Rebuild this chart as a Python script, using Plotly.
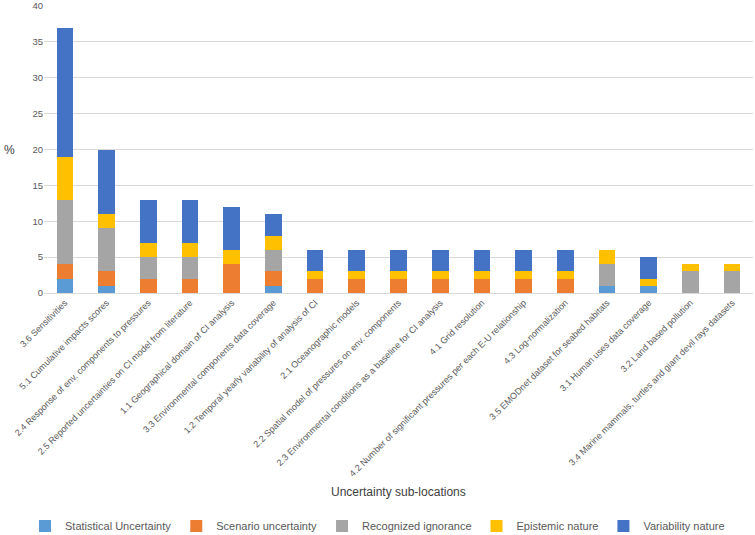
import plotly.graph_objects as go

categories = [
    "3.6 Sensitivities",
    "5.1 Cumulative impacts scores",
    "2.4 Response of env. components to pressures",
    "2.5 Reported uncertainties on CI model from literature",
    "1.1 Geographical domain of CI analysis",
    "3.3 Environmental components data coverage",
    "1.2 Temporal yearly variability of analysis of CI",
    "2.1 Oceanographic models",
    "2.2 Spatial model of pressures on env. components",
    "2.3 Environmental conditions as a baseline for CI analysis",
    "4.1 Grid resolution",
    "4.2 Number of significant pressures per each E-U relationship",
    "4.3 Log-normalization",
    "3.5 EMODnet dataset for seabed habitats",
    "3.1 Human uses data coverage",
    "3.2 Land based pollution",
    "3.4 Marine mammals, turtles and giant devil rays datasets",
]

statistical = [2, 1, 0, 0, 0, 1, 0, 0, 0, 0, 0, 0, 0, 1, 1, 0, 0]
scenario = [2, 2, 2, 2, 4, 2, 2, 2, 2, 2, 2, 2, 2, 0, 0, 0, 0]
ignorance = [9, 6, 3, 3, 0, 3, 0, 0, 0, 0, 0, 0, 0, 3, 0, 3, 3]
epistemic = [6, 2, 2, 2, 2, 2, 1, 1, 1, 1, 1, 1, 1, 2, 1, 1, 1]
variability = [18, 9, 6, 6, 6, 3, 3, 3, 3, 3, 3, 3, 3, 0, 3, 0, 0]

series = [
    ("Statistical Uncertainty", statistical, "#5B9BD5"),
    ("Scenario uncertainty", scenario, "#ED7D31"),
    ("Recognized ignorance", ignorance, "#A5A5A5"),
    ("Epistemic nature", epistemic, "#FFC000"),
    ("Variability nature", variability, "#4472C4"),
]

fig = go.Figure()
for name, vals, color in series:
    fig.add_trace(go.Bar(x=categories, y=vals, name=name, marker_color=color,
                         marker_line_width=0))

fig.update_layout(
    barmode="stack",
    bargap=0.6,
    width=755, height=535,
    margin=dict(l=44, r=2, t=6, b=242),
    plot_bgcolor="white",
    paper_bgcolor="white",
    font=dict(family="Liberation Sans, Arial, sans-serif", color="#595959", size=10),
    legend=dict(orientation="h", xref="container", x=0.5, xanchor="center",
                yref="container", y=0.017, yanchor="middle",
                font=dict(size=11), traceorder="normal", itemwidth=30),
    xaxis=dict(tickangle=-45, tickfont=dict(size=9), showgrid=False,
               showline=True, linecolor="#D9D9D9", ticks="", automargin=False),
    yaxis=dict(range=[0, 40], tickvals=[0, 5, 10, 15, 20, 25, 30, 35, 40],
               gridcolor="#D9D9D9", zeroline=False, ticklabeloverflow="allow",
               showline=False, ticks="", tickfont=dict(size=9.5), automargin=False),
    annotations=[
        dict(text="Uncertainty sub-locations", xref="paper", yref="paper",
             x=0.5, y=-0.694, showarrow=False, font=dict(size=12, color="#404040"),
             xanchor="center", yanchor="middle"),
        dict(text="%", xref="paper", yref="paper", x=-0.048, y=0.497,
             showarrow=False, font=dict(size=12, color="#404040"),
             xanchor="center", yanchor="middle"),
    ],
)

fig.write_html("out.html", config={"displayModeBar": False},
               post_script="document.body.style.margin='0';")
